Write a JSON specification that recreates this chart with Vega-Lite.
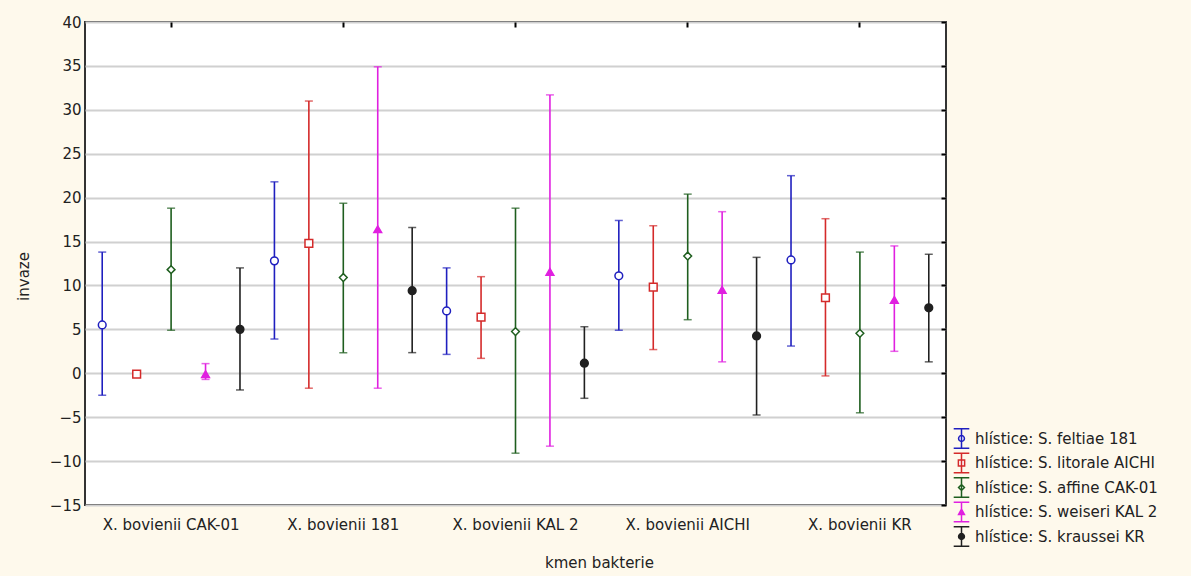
{
  "$schema": "https://vega.github.io/schema/vega-lite/v6.json",
  "width": 861,
  "height": 483,
  "autosize": "none",
  "padding": {"left": 85, "top": 22, "right": 245, "bottom": 71},
  "background": "#FEF9EC",
  "config": {
    "view": {"fill": "white", "stroke": "#333333", "strokeWidth": 2},
    "font": "DejaVu Sans",
    "axis": {"labelFont": "DejaVu Sans", "titleFont": "DejaVu Sans", "labelFontSize": 15, "titleFontSize": 15, "titleFontWeight": "normal", "labelColor": "#222222", "titleColor": "#222222", "domain": false, "tickColor": "#000000"},
    "legend": {"orient": "none", "legendX": 866, "legendY": 406, "labelFont": "DejaVu Sans", "labelFontSize": 15, "labelColor": "#222222", "labelOffset": 3, "labelLimit": 400, "symbolSize": 380, "symbolStrokeWidth": 1.5, "rowPadding": -2.5}
  },
  "data": {"values": [
    {"strain": "X. bovienii CAK-01", "nematode": "S. feltiae 181", "mean": 5.5, "lo": -2.5, "hi": 13.8},
    {"strain": "X. bovienii CAK-01", "nematode": "S. litorale AICHI", "mean": -0.1, "lo": -0.1, "hi": -0.1},
    {"strain": "X. bovienii CAK-01", "nematode": "S. affine CAK-01", "mean": 11.8, "lo": 4.9, "hi": 18.8},
    {"strain": "X. bovienii CAK-01", "nematode": "S. weiseri KAL 2", "mean": -0.1, "lo": -0.7, "hi": 1.1},
    {"strain": "X. bovienii CAK-01", "nematode": "S. kraussei KR", "mean": 5.0, "lo": -1.9, "hi": 12.0},
    {"strain": "X. bovienii 181", "nematode": "S. feltiae 181", "mean": 12.8, "lo": 3.9, "hi": 21.8},
    {"strain": "X. bovienii 181", "nematode": "S. litorale AICHI", "mean": 14.8, "lo": -1.7, "hi": 31.0},
    {"strain": "X. bovienii 181", "nematode": "S. affine CAK-01", "mean": 10.9, "lo": 2.35, "hi": 19.35},
    {"strain": "X. bovienii 181", "nematode": "S. weiseri KAL 2", "mean": 16.4, "lo": -1.7, "hi": 34.9},
    {"strain": "X. bovienii 181", "nematode": "S. kraussei KR", "mean": 9.4, "lo": 2.35, "hi": 16.6},
    {"strain": "X. bovienii KAL 2", "nematode": "S. feltiae 181", "mean": 7.1, "lo": 2.15, "hi": 12.0},
    {"strain": "X. bovienii KAL 2", "nematode": "S. litorale AICHI", "mean": 6.4, "lo": 1.7, "hi": 11.0},
    {"strain": "X. bovienii KAL 2", "nematode": "S. affine CAK-01", "mean": 4.75, "lo": -9.1, "hi": 18.8},
    {"strain": "X. bovienii KAL 2", "nematode": "S. weiseri KAL 2", "mean": 11.55, "lo": -8.3, "hi": 31.7},
    {"strain": "X. bovienii KAL 2", "nematode": "S. kraussei KR", "mean": 1.15, "lo": -2.85, "hi": 5.3},
    {"strain": "X. bovienii AICHI", "nematode": "S. feltiae 181", "mean": 11.1, "lo": 4.9, "hi": 17.4},
    {"strain": "X. bovienii AICHI", "nematode": "S. litorale AICHI", "mean": 9.8, "lo": 2.7, "hi": 16.8},
    {"strain": "X. bovienii AICHI", "nematode": "S. affine CAK-01", "mean": 13.35, "lo": 6.1, "hi": 20.4},
    {"strain": "X. bovienii AICHI", "nematode": "S. weiseri KAL 2", "mean": 9.5, "lo": 1.3, "hi": 18.4},
    {"strain": "X. bovienii AICHI", "nematode": "S. kraussei KR", "mean": 4.25, "lo": -4.75, "hi": 13.2},
    {"strain": "X. bovienii KR", "nematode": "S. feltiae 181", "mean": 12.9, "lo": 3.1, "hi": 22.5},
    {"strain": "X. bovienii KR", "nematode": "S. litorale AICHI", "mean": 8.6, "lo": -0.3, "hi": 17.6},
    {"strain": "X. bovienii KR", "nematode": "S. affine CAK-01", "mean": 4.55, "lo": -4.5, "hi": 13.8},
    {"strain": "X. bovienii KR", "nematode": "S. weiseri KAL 2", "mean": 8.35, "lo": 2.5, "hi": 14.5},
    {"strain": "X. bovienii KR", "nematode": "S. kraussei KR", "mean": 7.45, "lo": 1.3, "hi": 13.55}
  ]},
  "resolve": {"axis": {"x": "independent", "y": "independent"}},
  "layer": [
    {
      "mark": {"type": "rule", "strokeWidth": 1.6},
      "encoding": {
        "x": {"field": "strain", "type": "nominal", "sort": ["X. bovienii CAK-01", "X. bovienii 181", "X. bovienii KAL 2", "X. bovienii AICHI", "X. bovienii KR"], "scale": {"paddingInner": 0, "paddingOuter": 0},
              "axis": {"title": "kmen bakterie", "labelAngle": 0, "ticks": false, "labelPadding": 12, "titleX": 514, "titleY": 50, "titleAnchor": "middle"}},
        "xOffset": {"field": "nematode", "type": "nominal", "sort": ["S. feltiae 181", "S. litorale AICHI", "S. affine CAK-01", "S. weiseri KAL 2", "S. kraussei KR"], "scale": {"paddingInner": 0, "paddingOuter": 0}},
        "y": {"field": "lo", "type": "quantitative", "scale": {"domain": [-15, 40], "nice": false, "zero": false},
              "axis": {"title": "invaze", "values": [-15, -10, -5, 0, 5, 10, 15, 20, 25, 30, 35, 40], "ticks": false, "labelPadding": 4, "grid": true, "gridColor": "#d0d0d0", "gridWidth": 2, "titleX": -54, "titleY": 254}},
        "y2": {"field": "hi"},
        "color": {"field": "nematode", "type": "nominal", "sort": ["S. feltiae 181", "S. litorale AICHI", "S. affine CAK-01", "S. weiseri KAL 2", "S. kraussei KR"], "scale": {"range": ["#1f1fbf", "#d42a2a", "#1e5e1e", "#e020e0", "#202020"]}, "legend": null}
      }
    },
    {
      "mark": {"type": "tick", "thickness": 1.5, "size": 8},
      "encoding": {
        "x": {"field": "strain", "type": "nominal", "sort": ["X. bovienii CAK-01", "X. bovienii 181", "X. bovienii KAL 2", "X. bovienii AICHI", "X. bovienii KR"],
              "axis": {"orient": "top", "labels": false, "title": null, "ticks": true, "tickSize": -5, "tickWidth": 2}},
        "xOffset": {"field": "nematode", "type": "nominal", "sort": ["S. feltiae 181", "S. litorale AICHI", "S. affine CAK-01", "S. weiseri KAL 2", "S. kraussei KR"]},
        "y": {"field": "hi", "type": "quantitative",
              "axis": {"orient": "right", "labels": false, "title": null, "grid": false, "ticks": true, "tickSize": -5, "tickWidth": 2, "values": [-15, -10, -5, 0, 5, 10, 15, 20, 25, 30, 35, 40]}},
        "color": {"field": "nematode", "type": "nominal", "sort": ["S. feltiae 181", "S. litorale AICHI", "S. affine CAK-01", "S. weiseri KAL 2", "S. kraussei KR"], "legend": null}
      }
    },
    {
      "mark": {"type": "tick", "thickness": 1.5, "size": 8},
      "encoding": {
        "x": {"field": "strain", "type": "nominal", "sort": ["X. bovienii CAK-01", "X. bovienii 181", "X. bovienii KAL 2", "X. bovienii AICHI", "X. bovienii KR"], "axis": null},
        "xOffset": {"field": "nematode", "type": "nominal", "sort": ["S. feltiae 181", "S. litorale AICHI", "S. affine CAK-01", "S. weiseri KAL 2", "S. kraussei KR"]},
        "y": {"field": "lo", "type": "quantitative", "axis": null},
        "color": {"field": "nematode", "type": "nominal", "sort": ["S. feltiae 181", "S. litorale AICHI", "S. affine CAK-01", "S. weiseri KAL 2", "S. kraussei KR"], "legend": null}
      }
    },
    {
      "mark": {"type": "point", "size": 60, "strokeWidth": 1.5, "opacity": 1},
      "encoding": {
        "x": {"field": "strain", "type": "nominal", "sort": ["X. bovienii CAK-01", "X. bovienii 181", "X. bovienii KAL 2", "X. bovienii AICHI", "X. bovienii KR"], "axis": null},
        "xOffset": {"field": "nematode", "type": "nominal", "sort": ["S. feltiae 181", "S. litorale AICHI", "S. affine CAK-01", "S. weiseri KAL 2", "S. kraussei KR"]},
        "y": {"field": "mean", "type": "quantitative", "axis": null},
        "stroke": {"field": "nematode", "type": "nominal", "sort": ["S. feltiae 181", "S. litorale AICHI", "S. affine CAK-01", "S. weiseri KAL 2", "S. kraussei KR"], "scale": {"range": ["#1f1fbf", "#d42a2a", "#1e5e1e", "#e020e0", "#202020"]},
                   "legend": {"title": null, "labelExpr": "'hlístice: ' + datum.label",
                     "symbolType": {"expr": "datum.value == 'S. feltiae 181' ? 'M-0.8,-1H0.8M0,-1V1M-0.8,1H0.8M0.3,0A0.3,0.3 0 1 1 -0.3,0A0.3,0.3 0 1 1 0.3,0Z' : datum.value == 'S. litorale AICHI' ? 'M-0.8,-1H0.8M0,-1V1M-0.8,1H0.8M-0.32,-0.32H0.32V0.32H-0.32Z' : datum.value == 'S. affine CAK-01' ? 'M-0.8,-1H0.8M0,-1V1M-0.8,1H0.8M0,-0.3L0.3,0L0,0.3L-0.3,0Z' : datum.value == 'S. weiseri KAL 2' ? 'M-0.8,-1H0.8M0,-1V1M-0.8,1H0.8M0,-0.3L0.3,0.25H-0.3Z' : 'M-0.8,-1H0.8M0,-1V1M-0.8,1H0.8M0.3,0A0.3,0.3 0 1 1 -0.3,0A0.3,0.3 0 1 1 0.3,0Z'"},
                     "symbolFillColor": {"expr": "datum.value == 'S. weiseri KAL 2' ? '#e020e0' : datum.value == 'S. kraussei KR' ? '#202020' : '#ffffff'"}
                   }},
        "fill": {"field": "nematode", "type": "nominal", "sort": ["S. feltiae 181", "S. litorale AICHI", "S. affine CAK-01", "S. weiseri KAL 2", "S. kraussei KR"], "scale": {"range": ["#ffffff", "#ffffff", "#ffffff", "#e020e0", "#202020"]}, "legend": null},
        "shape": {"field": "nematode", "type": "nominal", "sort": ["S. feltiae 181", "S. litorale AICHI", "S. affine CAK-01", "S. weiseri KAL 2", "S. kraussei KR"], "scale": {"range": ["circle", "square", "diamond", "triangle-up", "circle"]}, "legend": null}
      }
    }
  ]
}
